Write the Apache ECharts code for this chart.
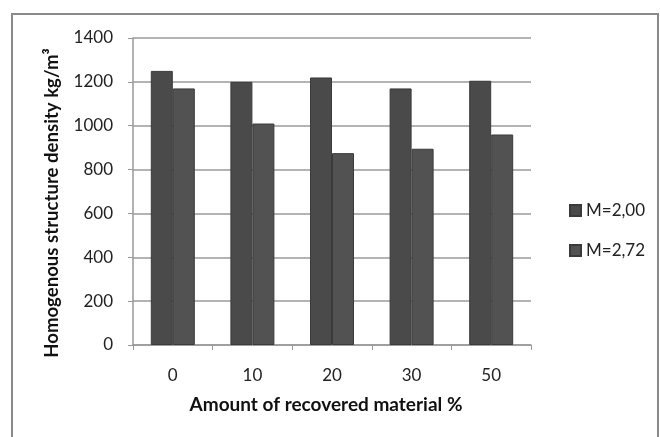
<!DOCTYPE html>
<html><head><meta charset="utf-8">
<script src="https://cdn.jsdelivr.net/npm/echarts@6/dist/echarts.min.js"></script>
<style>html,body{margin:0;padding:0;background:#fff}#c{width:660px;height:437px}</style>
</head><body><div id="c"></div>
<script>
const categories = ['0', '10', '20', '30', '50'];
const seriesM200 = [1250, 1200, 1220, 1170, 1205];
const seriesM272 = [1170, 1010, 875, 895, 960];
const seriesNames = ['M=2,00', 'M=2,72'];
const yTitle = 'Homogenous structure density kg/m³';
const xTitle = 'Amount of recovered material %';

const chart = echarts.init(document.getElementById('c'), null, {renderer: 'canvas'});
const font = 'Lato, "Open Sans", sans-serif';
chart.setOption({
  animation: false,
  backgroundColor: '#fff',
  graphic: [{
    type: 'rect', shape: {x: 12, y: 14, width: 646, height: 440},
    style: {fill: 'none', stroke: '#8a8a8a', lineWidth: 2}, silent: true
  }, {
    type: 'text', x: 52, y: 203, rotation: Math.PI / 2,
    style: {text: yTitle, fontFamily: font, fontSize: 18.6, fontWeight: 'bold', fill: '#111',
            align: 'center', verticalAlign: 'middle'}, silent: true
  }, {
    type: 'text', x: 326, y: 405,
    style: {text: xTitle, fontFamily: font, fontSize: 19, fontWeight: 'bold', fill: '#111',
            align: 'center', verticalAlign: 'middle'}, silent: true
  }],
  grid: {left: 133, right: 129, top: 38, bottom: 92, containLabel: false},
  legend: {
    orient: 'vertical', left: 564, top: 197, itemGap: 23,
    itemWidth: 11, itemHeight: 11, icon: 'rect',
    textStyle: {fontFamily: font, fontSize: 17, color: '#222'},
    data: seriesNames
  },
  xAxis: {
    type: 'category', data: categories,
    axisLine: {lineStyle: {color: '#999', width: 1.5}},
    axisTick: {show: true, length: 5, lineStyle: {color: '#999'}},
    axisLabel: {fontFamily: font, fontSize: 17, color: '#222', margin: 22}
  },
  yAxis: {
    type: 'value', min: 0, max: 1400, interval: 200,
    axisLine: {show: true, lineStyle: {color: '#999', width: 1.5}},
    axisTick: {show: true, length: 5, inside: false, lineStyle: {color: '#999'}},
    axisLabel: {fontFamily: font, fontSize: 17, color: '#222', margin: 20, formatter: v => String(v)},
    splitLine: {lineStyle: {color: '#9a9a9a', width: 1.5}}
  },
  series: [
    {name: seriesNames[0], type: 'bar', data: seriesM200, barWidth: 22, barGap: '0%',
     itemStyle: {color: '#4a4a4a', borderColor: '#3a3a3a', borderWidth: 1}},
    {name: seriesNames[1], type: 'bar', data: seriesM272, barWidth: 22,
     itemStyle: {color: '#525252', borderColor: '#3a3a3a', borderWidth: 1}}
  ]
});
</script></body></html>
